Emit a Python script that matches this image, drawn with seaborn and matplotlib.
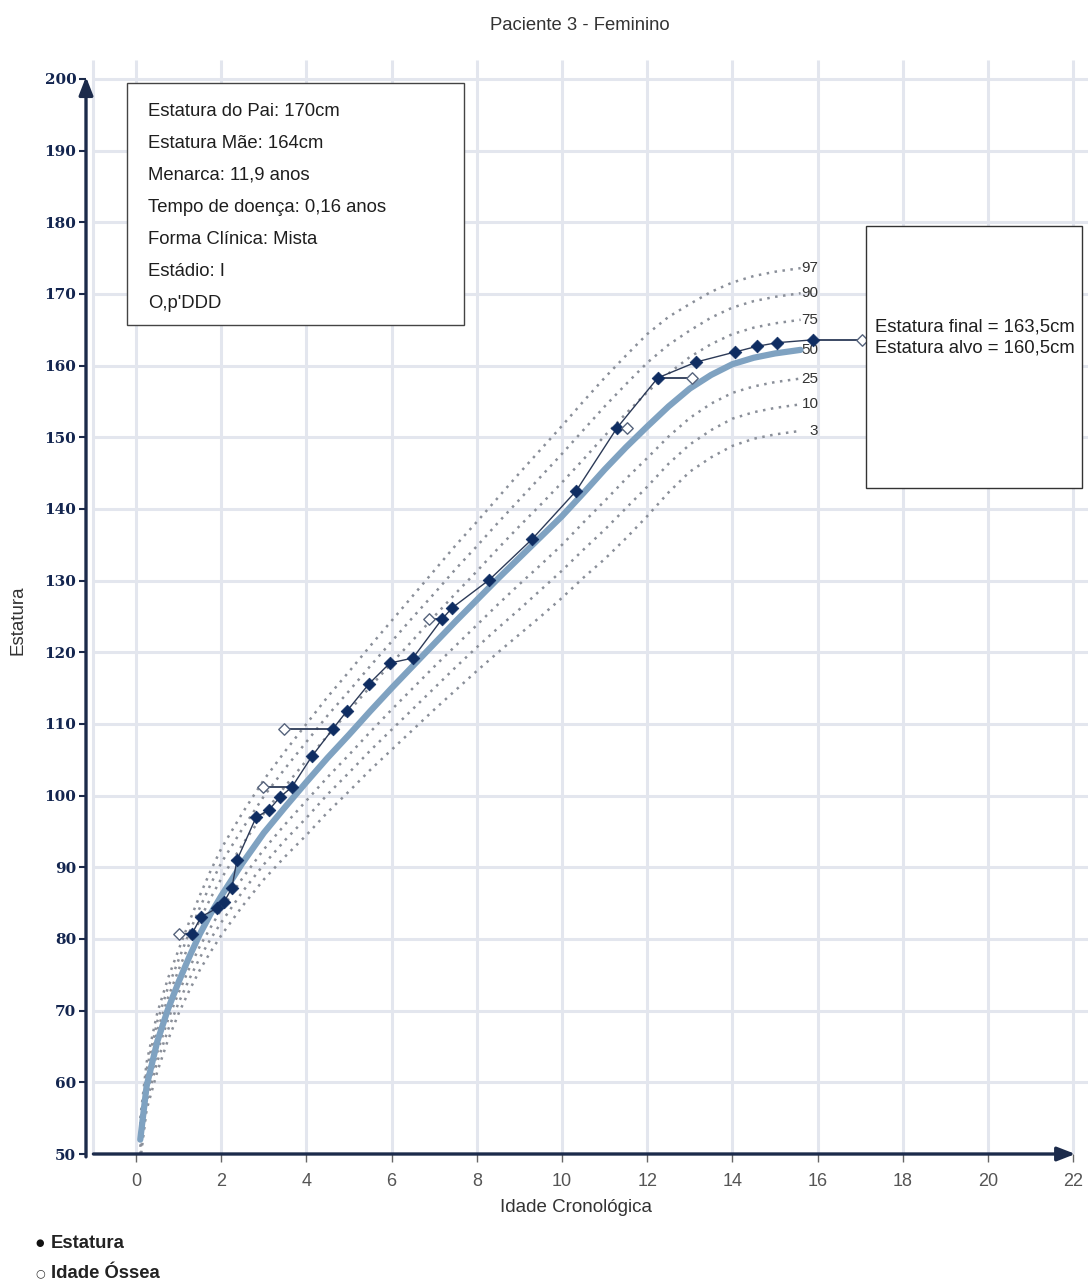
import numpy as np
import pandas as pd
import matplotlib
matplotlib.use("Agg")
import matplotlib.pyplot as plt
import seaborn as sns
from matplotlib.patches import Rectangle

# ---------------- data ----------------
titulo = "Paciente 3 - Feminino"
info_lines = ["Estatura do Pai: 170cm", "Estatura Mãe: 164cm", "Menarca: 11,9 anos",
              "Tempo de doença: 0,16 anos", "Forma Clínica: Mista", "Estádio: I", "O,p'DDD"]
resumo_lines = ["Estatura final = 163,5cm", "Estatura alvo = 160,5cm"]

idade_ref = [0.1, 0.25, 0.5, 0.75, 1.0, 1.25, 1.5, 1.75, 2.0, 2.5, 3.0, 3.5, 4.0, 4.5, 5.0, 5.5,
             6.0, 6.5, 7.0, 7.5, 8.0, 8.5, 9.0, 9.5, 10.0, 10.5, 11.0, 11.5, 12.0, 12.5, 13.0,
             13.5, 14.0, 14.5, 15.0, 15.6]
p3  = [49.0, 56.2, 61.5, 65.9, 69.6, 72.8, 75.7, 78.2, 80.5, 84.6, 88.3, 91.5, 94.5, 97.7, 100.6,
       103.6, 106.4, 109.2, 112.0, 114.7, 117.4, 120.0, 122.5, 125.0, 127.6, 130.4, 133.0, 135.9,
       139.0, 142.3, 145.2, 147.2, 148.8, 149.8, 150.4, 150.9]
p10 = [50.0, 57.3, 62.9, 67.3, 71.1, 74.4, 77.4, 80.0, 82.3, 86.6, 90.4, 93.8, 96.9, 100.2, 103.2,
       106.3, 109.2, 112.1, 115.0, 117.9, 120.7, 123.4, 126.0, 128.7, 131.4, 134.3, 137.1, 140.1,
       143.1, 146.3, 149.0, 151.0, 152.6, 153.5, 154.1, 154.6]
p25 = [51.0, 58.3, 64.2, 68.7, 72.5, 75.9, 79.0, 81.6, 84.1, 88.5, 92.5, 96.0, 99.3, 102.6, 105.7,
       108.9, 112.0, 115.0, 118.0, 120.9, 123.8, 126.7, 129.5, 132.2, 135.0, 138.1, 141.1, 144.2,
       147.1, 150.1, 152.7, 154.7, 156.2, 157.1, 157.7, 158.2]
p50 = [52.0, 59.5, 65.7, 70.2, 74.0, 77.5, 80.7, 83.5, 86.0, 90.6, 94.8, 98.4, 101.9, 105.3, 108.5,
       111.8, 115.0, 118.1, 121.2, 124.3, 127.3, 130.3, 133.2, 136.1, 139.0, 142.2, 145.5, 148.6,
       151.5, 154.3, 156.8, 158.7, 160.2, 161.1, 161.7, 162.2]
p75 = [53.1, 60.7, 67.2, 71.8, 75.7, 79.3, 82.7, 85.7, 88.4, 93.2, 97.5, 101.3, 104.9, 108.4, 111.8,
       115.2, 118.5, 121.7, 125.0, 128.2, 131.3, 134.5, 137.6, 140.6, 143.7, 146.9, 150.2, 153.3,
       156.3, 158.9, 161.2, 163.0, 164.4, 165.3, 165.9, 166.4]
p90 = [54.1, 61.8, 68.5, 73.2, 77.1, 80.9, 84.4, 87.6, 90.6, 95.4, 99.9, 103.8, 107.5, 111.2, 114.6,
       118.1, 121.5, 124.9, 128.2, 131.6, 134.8, 138.1, 141.3, 144.5, 147.7, 151.0, 154.3, 157.4,
       160.4, 162.9, 164.9, 166.7, 168.1, 169.0, 169.6, 170.1]
p97 = [55.0, 62.8, 69.7, 74.5, 78.5, 82.4, 86.1, 89.5, 92.6, 97.6, 102.2, 106.2, 110.0, 113.8, 117.3,
       120.9, 124.4, 127.9, 131.4, 134.9, 138.2, 141.6, 145.0, 148.3, 151.6, 155.0, 158.3, 161.4,
       164.4, 166.8, 168.6, 170.3, 171.6, 172.5, 173.1, 173.6]
percentis = {"3": p3, "10": p10, "25": p25, "75": p75, "90": p90, "97": p97}
rotulos_percentis = ["97", "90", "75", "50", "25", "10", "3"]

idade_cron = [1.31, 1.53, 1.90, 2.07, 2.25, 2.37, 2.82, 3.12, 3.38, 3.66, 4.13, 4.62, 4.95, 5.47,
              5.96, 6.50, 7.18, 7.42, 8.29, 9.30, 10.33, 11.29, 12.25, 13.15, 14.06, 14.58, 15.05, 15.89]
estatura = [80.7, 83.1, 84.3, 85.2, 87.1, 91.0, 97.0, 98.0, 99.8, 101.2, 105.5, 109.3, 111.8, 115.6,
            118.5, 119.2, 124.6, 126.2, 130.1, 135.8, 142.5, 151.3, 158.3, 160.5, 161.9, 162.7, 163.2, 163.6]

idade_ossea = [1.01, 2.98, 3.47, 6.88, 11.53, 13.05, 17.04]
io_idade_cron = [1.31, 3.66, 4.62, 7.18, 11.29, 12.25, 15.89]
io_estatura = [80.7, 101.2, 109.3, 124.6, 151.3, 158.3, 163.6]

x_ticks = list(range(0, 23, 2))
y_ticks = list(range(50, 201, 10))

# ---------------- style ----------------
sns.set_theme(style="white")
plt.rcParams["font.family"] = ["Liberation Sans", "DejaVu Sans"]

W, H = 1088, 1285
fig = plt.figure(figsize=(W / 100, H / 100), dpi=100)
fig.patch.set_facecolor("white")

ax_l, ax_r, ax_t, ax_b = 86, 1088, 60, 1154
ax = fig.add_axes([ax_l / W, 1 - ax_b / H, (ax_r - ax_l) / W, (ax_b - ax_t) / H])
ppx = 42.6
x0px = 136
ppy = 7.167
ax.set_xlim((ax_l - x0px) / ppx, (ax_r - x0px) / ppx)
ax.set_ylim(50, 50 + (ax_b - ax_t) / ppy)
ax.set_facecolor("white")
for s in ax.spines.values():
    s.set_visible(False)

grid_c = "#e3e6ee"
xmin = ax.get_xlim()[0]
xmax = ax.get_xlim()[1]
ytop = ax.get_ylim()[1]
for xv in [-1] + x_ticks:
    ax.plot([xv, xv], [50, ytop], color=grid_c, lw=2.2, zorder=0, solid_capstyle="butt")
for yv in y_ticks[1:]:
    ax.plot([-1, xmax], [yv, yv], color=grid_c, lw=2.2, zorder=0, solid_capstyle="butt")

# percentile curves
rows = []
for k, vals in percentis.items():
    for a, v in zip(idade_ref, vals):
        rows.append({"idade": a, "estatura": v, "percentil": k})
df_p = pd.DataFrame(rows)
sns.lineplot(data=df_p, x="idade", y="estatura", units="percentil", estimator=None, sort=False,
             color="#8a8f99", lw=1.8, linestyle=(0, (1, 2.2)), ax=ax, zorder=1)
sns.lineplot(x=idade_ref, y=p50, color="#7fa2c1", lw=4.5, ax=ax, zorder=2,
             solid_capstyle="round", solid_joinstyle="round")

ultimos = {"97": p97[-1], "90": p90[-1], "75": p75[-1], "50": p50[-1],
           "25": p25[-1], "10": p10[-1], "3": p3[-1]}
for r in rotulos_percentis:
    ax.text(16.02, ultimos[r], r, ha="right", va="center", fontsize=11,
            color="#333333", zorder=3)

# bone-age links
for ic, io, h in zip(io_idade_cron, idade_ossea, io_estatura):
    ax.plot([ic, io], [h, h], color="#2c3a57", lw=1.3, zorder=3)

# patient data
sns.lineplot(x=idade_cron, y=estatura, color="#2c3a57", lw=1.0, ax=ax, zorder=3, sort=False)
sns.scatterplot(x=idade_cron, y=estatura, marker="D", s=42, color="#0f2d62",
                edgecolor="#0f2d62", linewidth=0.5, ax=ax, zorder=5)
sns.scatterplot(x=idade_ossea, y=io_estatura, marker="D", s=34, color="white",
                edgecolor="#56637c", linewidth=1.0, ax=ax, zorder=5)

# axes lines with arrows
axis_c = "#1c2b4b"
ax.annotate("", xy=(xmin, 200.3), xytext=(xmin, 49.6),
            arrowprops=dict(arrowstyle="-|>,head_length=0.9,head_width=0.35", color=axis_c, lw=2.4,
                            shrinkA=0, shrinkB=0), annotation_clip=False, zorder=6)
ax.annotate("", xy=(22.05, 50), xytext=(-1.0, 50),
            arrowprops=dict(arrowstyle="-|>,head_length=0.9,head_width=0.35", color=axis_c, lw=2.4,
                            shrinkA=0, shrinkB=0), annotation_clip=False, zorder=6)

ax.set_xticks(x_ticks)
ax.set_yticks(y_ticks)
ax.set_xticklabels([str(v) for v in x_ticks])
ax.set_yticklabels([str(v) for v in y_ticks])
ax.tick_params(axis="y", left=True, length=5, width=1.5, color=axis_c, pad=2,
               labelsize=11, labelcolor="#13254f")
ax.tick_params(axis="x", bottom=True, length=6, width=1.0, color="#666666", pad=8,
               labelsize=13, labelcolor="#555555")
for lbl in ax.get_yticklabels():
    lbl.set_family("DejaVu Serif")
    lbl.set_fontweight("bold")
ax.set_xlabel("")
ax.set_ylabel("")

# texts
fig.text(580 / W, 1 - 25 / H, titulo, ha="center", va="center", fontsize=13.3, color="#333333")
fig.text(18 / W, 1 - 620 / H, "Estatura", ha="center", va="center", rotation=90,
         fontsize=13.5, color="#333333")
fig.text(576 / W, 1 - 1208 / H, "Idade Cronológica", ha="center", va="center",
         fontsize=13.5, color="#333333")

# info box
fig.add_artist(Rectangle((127 / W, 1 - 325 / H), (464 - 127) / W, (325 - 83) / H,
                         transform=fig.transFigure, facecolor="white", edgecolor="#444444",
                         lw=1.0, zorder=8))
for i, t in enumerate(info_lines):
    fig.text(148 / W, 1 - (111 + 32 * i) / H, t, ha="left", va="center", fontsize=13.3,
             color="#1e1e1e", zorder=9)

# result box
fig.add_artist(Rectangle((866 / W, 1 - 488 / H), (1082 - 866) / W, (488 - 226) / H,
                         transform=fig.transFigure, facecolor="white", edgecolor="#333333",
                         lw=1.0, zorder=8))
for i, t in enumerate(resumo_lines):
    fig.text(875 / W, 1 - (327 + 21 * i) / H, t, ha="left", va="center", fontsize=13.3,
             color="#1e1e1e", zorder=9)

# legend
fig.text(35 / W, 1 - 1243 / H, "●", ha="left", va="center", fontsize=7, color="#111111",
         family="DejaVu Sans")
fig.text(51 / W, 1 - 1243 / H, "Estatura", ha="left", va="center", fontsize=13.3,
         fontweight="bold", color="#222222")
fig.text(35 / W, 1 - 1273 / H, "○", ha="left", va="center", fontsize=8, color="#333333",
         family="DejaVu Sans")
fig.text(51 / W, 1 - 1273 / H, "Idade Óssea", ha="left", va="center", fontsize=13.3,
         fontweight="bold", color="#222222")

fig.savefig("out.png", dpi=100, facecolor="white")
